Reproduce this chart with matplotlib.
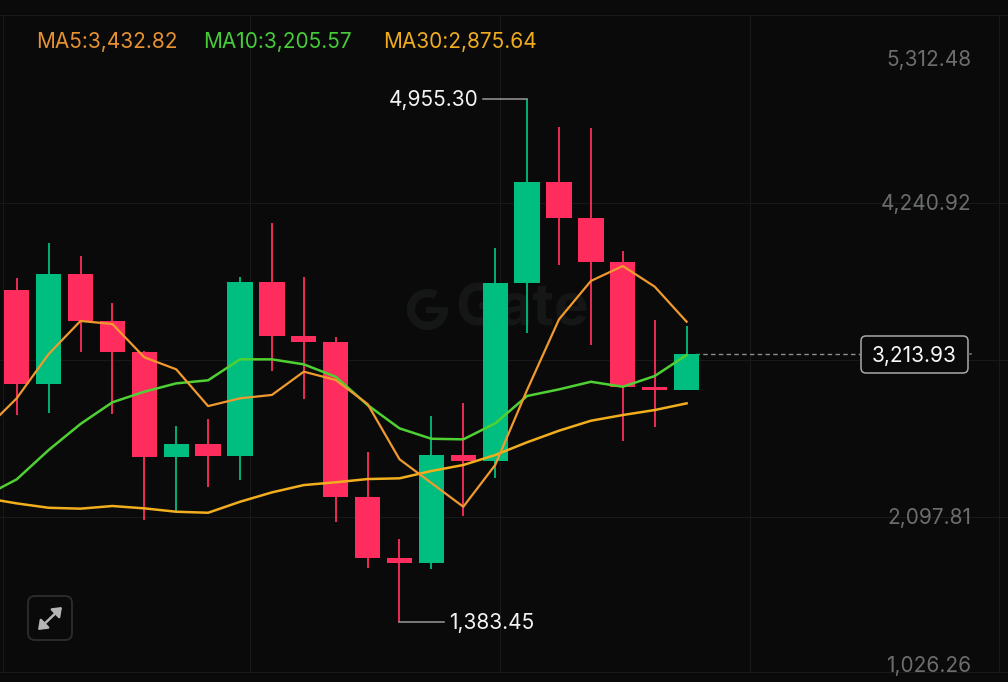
import matplotlib
matplotlib.use("Agg")
import matplotlib.pyplot as plt
from matplotlib.patches import FancyBboxPatch, Arc

opens  = [3647, 3010, 3756, 3438, 3228, 2507, 2598, 2516, 3702, 3333, 3294, 2234, 1818, 1788, 2523, 2480, 3695, 4388, 4141, 3842, 2985, 2967]
highs  = [3731, 3972, 3883, 3558, 3235, 2721, 2767, 3736, 4104, 3740, 3330, 2546, 1952, 2789, 2876, 3938, 4955.30, 4764, 4753, 3915, 3444, 3403]
lows   = [2796, 2812, 3226, 2801, 2079, 2143, 2303, 2352, 3098, 2905, 2068, 1750, 1383.45, 1747, 2107, 2368, 3354, 3820, 3274, 2619, 2716, 2967]
closes = [3010, 3756, 3438, 3228, 2507, 2598, 2516, 3702, 3333, 3294, 2234, 1818, 1788, 2523, 2480, 3695, 4388, 4141, 3842, 2985, 2967, 3213.93]
# moving averages start one bar before the first visible candle
ma5  = [2694, 2910, 3212, 3438, 3417, 3190, 3108, 2857, 2910, 2933, 3092, 3035, 2871, 2494, 2332, 2170, 2455, 2967, 3449, 3711, 3813, 3672, 3432.82]
ma10 = [2243, 2357, 2557, 2735, 2883, 2955, 3012, 3033, 3176, 3176, 3142, 3057, 2864, 2705, 2634, 2630, 2739, 2926, 2971, 3023, 2989, 3062, 3205.57]
ma30 = [2230, 2193, 2163, 2157, 2175, 2159, 2136, 2129, 2204, 2268, 2318, 2337, 2359, 2364, 2414, 2455, 2523, 2610, 2689, 2757, 2796, 2830, 2875.64]
grid_prices = [4240.92, 3169.365, 2097.81]
axis_labels = ["5,312.48", "4,240.92", "2,097.81", "1,026.26"]
last_price = 3213.93
max_label = "4,955.30"
min_label = "1,383.45"
legend_labels = ["MA5:3,432.82", "MA10:3,205.57", "MA30:2,875.64"]

BG = "#0A0A0A"; RED = "#FF2D5E"; GREEN = "#00BE7F"
W, H = 1008, 682
FONT = "Inter"
FS = 15.0

fig = plt.figure(figsize=(W / 100, H / 100), dpi=100, facecolor=BG)

def layer(z):
    a = fig.add_axes([0, 0, 1, 1], zorder=z)
    a.set_axis_off()
    a.patch.set_alpha(0)
    return a

# pixel-coordinate layers behind and above the price axes
back = layer(0); back.set_xlim(0, W); back.set_ylim(H, 0)
ax = layer(1)
ui = layer(2); ui.set_xlim(0, W); ui.set_ylim(H, 0)

# price axes: candle i is centred on 16.7 + 31.9 i pixels
ax.set_xlim((0 - 16.7) / 31.9, (W - 16.7) / 31.9)
ax.set_ylim(974.0, 5628.4)

GRID = "#181919"
for px in [3, 249.5, 499.5, 749.5, 999]:
    back.axvline(px, ymin=(H - 672) / H, ymax=(H - 15) / H, color=GRID, lw=0.8)
for py in [15, 672]:
    back.axhline(py, color=GRID, lw=0.8)
for p in grid_prices:
    ax.axhline(p, color=GRID, lw=0.8, zorder=0)

# watermark
WM = "#151616"
back.add_patch(Arc((427.5, 309.5), 33, 33, theta1=-5, theta2=300, color=WM, lw=6))
back.plot([429, 444], [309.5, 309.5], color=WM, lw=4.5)
back.text(455, 311, "Gate", color=WM, fontsize=42, fontweight="bold", family=FONT, ha="left", va="center")

# candles
for i, (o, h, l, c) in enumerate(zip(opens, highs, lows, closes)):
    col = GREEN if c >= o else RED
    ax.vlines(i, l, h, color=col, lw=1.3, zorder=2)
    ax.bar(i, abs(c - o), bottom=min(o, c), width=0.795, color=col, lw=0, zorder=3)

xs = list(range(-1, 22))
ax.plot(xs, ma30, color="#F2AE1C", lw=1.8, zorder=4, solid_joinstyle="round")
ax.plot(xs, ma10, color="#4FD133", lw=1.8, zorder=5, solid_joinstyle="round")
ax.plot(xs, ma5, color="#F09A2E", lw=1.6, zorder=6, solid_joinstyle="round")

# legend row
for x, t, col in zip([36.5, 203.5, 383.5], legend_labels, ["#E8922F", "#45CC38", "#F0AC1E"]):
    ui.text(x, 41.5, t, color=col, fontsize=FS, family=FONT, ha="left", va="center")

# right-hand scale labels
for y, t in zip([59.5, 204, 518.5, 666.5], axis_labels):
    ui.text(971, y, t, color="#6B6D6E", fontsize=FS, family=FONT, ha="right", va="center")

# extreme-value callouts
i_hi = highs.index(max(highs)); i_lo = lows.index(min(lows))
ax.plot([i_hi - 44 / 31.9, i_hi], [max(highs)] * 2, color="#9A9A9A", lw=1.1, zorder=2)
ax.plot([i_lo, i_lo + 44 / 31.9], [min(lows)] * 2, color="#9A9A9A", lw=1.1, zorder=2)
ax.annotate(max_label, (i_hi, max(highs)), xytext=(-49 * 0.72, -1), textcoords="offset points",
            color="#F4F4F4", fontsize=FS, family=FONT, ha="right", va="center")
ax.annotate(min_label, (i_lo, min(lows)), xytext=(50 * 0.72, -1), textcoords="offset points",
            color="#F4F4F4", fontsize=FS, family=FONT, ha="left", va="center")

# last-price line and tag
ax.plot([21 + 8.5 / 31.9, (860 - 16.7) / 31.9], [last_price] * 2, color="#8E8E8E", lw=1.0,
        dashes=(3.2, 2.4), zorder=2)
ui.add_patch(FancyBboxPatch((865, 340), 99, 29, boxstyle="round,pad=4,rounding_size=5", fc=BG, ec="#A8A8A8", lw=1.1))
ui.text(914.5, 356.5, f"{last_price:,.2f}", color="#F8F8F8", fontsize=FS, family=FONT, ha="center", va="center")
ui.plot([969, 971], [353.5, 353.5], color="#6B6D6E", lw=1.2)

# full-screen button
ui.add_patch(FancyBboxPatch((33, 601), 34, 34, boxstyle="round,pad=5,rounding_size=7", fc=BG, ec="#2A2B2B", lw=1.4))
ui.annotate("", xy=(62, 607), xytext=(38, 630),
            arrowprops=dict(arrowstyle="<|-|>,head_length=0.5,head_width=0.38", color="#B4B4B4", lw=1.8, shrinkA=0, shrinkB=0))

fig.savefig("out.png", dpi=100, facecolor=BG)
